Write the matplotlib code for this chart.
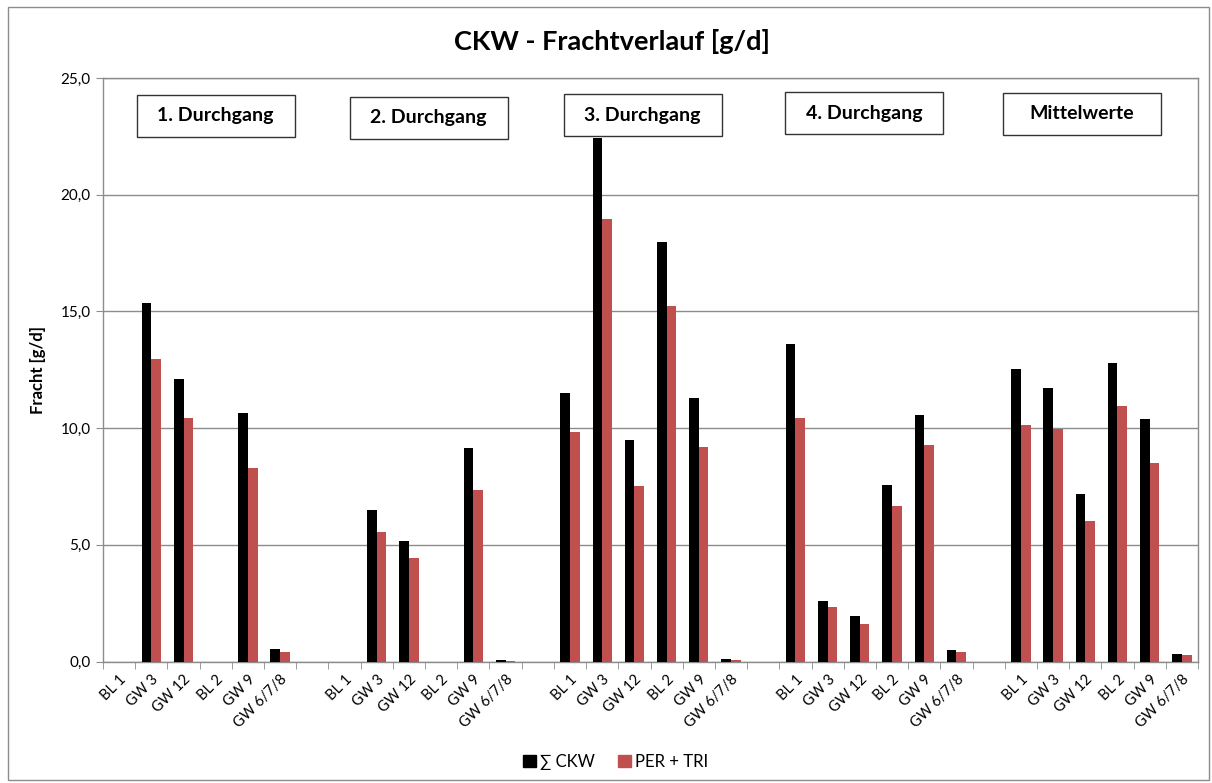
import matplotlib.pyplot as plt
import matplotlib.patches as patches
from matplotlib.ticker import FuncFormatter
import numpy as np

plt.rcParams['font.family'] = ['Lato', 'DejaVu Sans']

# data
groups = ['1. Durchgang', '2. Durchgang', '3. Durchgang', '4. Durchgang', 'Mittelwerte']
stations = ['BL 1', 'GW 3', 'GW 12', 'BL 2', 'GW 9', 'GW 6/7/8']

ckw_sum = [
    [0.0, 15.37, 12.12, 0.0, 10.64, 0.52],
    [0.0, 6.50, 5.17, 0.0, 9.13, 0.07],
    [11.51, 22.44, 9.48, 17.99, 11.28, 0.11],
    [13.60, 2.58, 1.97, 7.58, 10.56, 0.50],
    [12.55, 11.72, 7.18, 12.81, 10.40, 0.33],
]
per_tri = [
    [0.0, 12.94, 10.45, 0.0, 8.27, 0.39],
    [0.0, 5.56, 4.44, 0.0, 7.35, 0.03],
    [9.82, 18.98, 7.50, 15.21, 9.18, 0.08],
    [10.44, 2.35, 1.61, 6.67, 9.27, 0.41],
    [10.13, 9.96, 6.01, 10.95, 8.52, 0.26],
]

BLACK = '#000000'
RED = '#C0504D'
GREY = '#8C8C8C'
W, H = 1212, 783

fig = plt.figure(figsize=(W / 100, H / 100), dpi=100)
ax = fig.add_axes([103 / W, 1 - 661.5 / H, (1198 - 103) / W, (661.5 - 78) / H])

# outer chart border
fig.patches.append(patches.Rectangle((8 / W, 3 / H), 1201 / W, 773 / H,
                                     transform=fig.transFigure, fill=False,
                                     edgecolor=GREY, linewidth=1))

n = len(stations)
slot = n + 1  # one empty slot between groups
xs, labels, v1, v2 = [], [], [], []
for g in range(len(groups)):
    for i, st in enumerate(stations):
        xs.append(g * slot + i)
        labels.append(st)
        v1.append(ckw_sum[g][i])
        v2.append(per_tri[g][i])
xs = np.array(xs)

w = 0.3
ax.bar(xs - w / 2, v1, width=w, color=BLACK, zorder=3, label='∑ CKW')
ax.bar(xs + w / 2, v2, width=w, color=RED, zorder=3, label='PER + TRI')

total = len(groups) * slot - 1
ax.set_xlim(-0.5, total - 0.5)
ax.set_ylim(0, 25)
ax.set_yticks(np.arange(0, 25.1, 5))
ax.yaxis.set_major_formatter(FuncFormatter(lambda v, p: f'{v:.1f}'.replace('.', ',')))
ax.grid(axis='y', color=GREY, linewidth=1, zorder=0)

ax.set_xticks(xs)
ax.set_xticklabels(labels, rotation=45, ha='right', rotation_mode='anchor', fontsize=10.5)
ax.set_xticks(np.arange(-0.5, total, 1), minor=True)
ax.tick_params(axis='x', which='major', length=0, pad=8)
ax.tick_params(axis='x', which='minor', length=5, color=GREY, direction='out')
ax.tick_params(axis='y', length=5, color=GREY, labelsize=11, pad=4)

for s in ax.spines.values():
    s.set_color(GREY)
    s.set_linewidth(1)

ax.set_ylabel('Fracht [g/d]', fontsize=12, fontweight='bold', labelpad=10)

fig.text(0.505, 1 - 42 / H, 'CKW - Frachtverlauf [g/d]', ha='center', va='center',
         fontsize=19.5, fontweight='bold')

# group label boxes (placed by hand in the original, fixed size)
box_cx = [215.5, 428.5, 642.5, 864.5, 1081.5]
box_cy = [116, 117.5, 115, 113, 113.5]
bw, bh = 158, 42
for name, cx, cy in zip(groups, box_cx, box_cy):
    fig.patches.append(patches.Rectangle(((cx - bw / 2) / W, 1 - (cy + bh / 2) / H),
                                         bw / W, bh / H, transform=fig.transFigure,
                                         facecolor='white', edgecolor='#333333',
                                         linewidth=1, zorder=5))
    fig.text(cx / W, 1 - cy / H, name, ha='center', va='center', fontsize=14,
             fontweight='bold', zorder=6)

handles = [patches.Patch(color=BLACK, label='∑ CKW'),
           patches.Patch(color=RED, label='PER + TRI')]
fig.legend(handles=handles, loc='center', bbox_to_anchor=(0.508, 1 - 762 / H), ncol=2,
           frameon=False, fontsize=12, handlelength=0.75, handleheight=0.75,
           handletextpad=0.25, columnspacing=1.4)

fig.savefig('out.png', dpi=100, facecolor='white')
